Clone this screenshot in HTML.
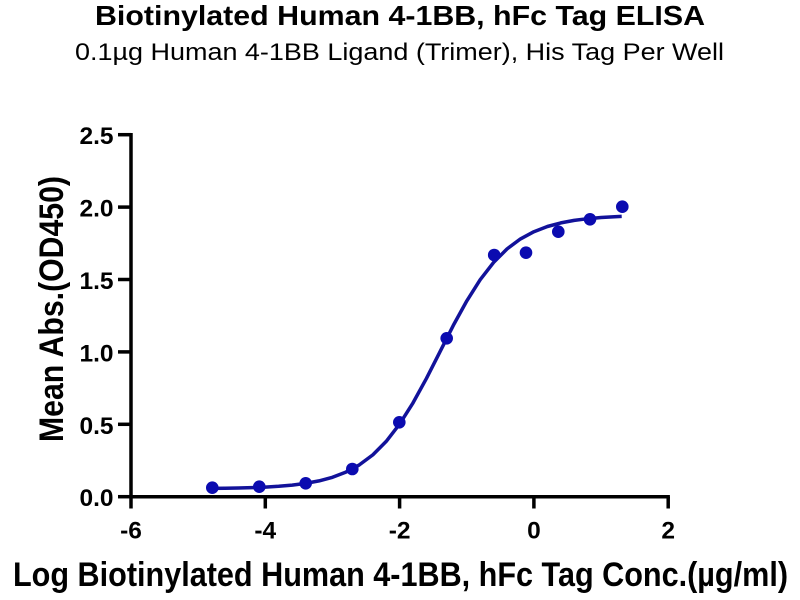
<!DOCTYPE html>
<html>
<head>
<meta charset="utf-8">
<style>
html,body{margin:0;padding:0;background:#fff;}
svg{display:block;}
text{font-family:"Liberation Sans",Arial,sans-serif;fill:#000;}
</style>
</head>
<body>
<svg width="800" height="600" viewBox="0 0 800 600" xmlns="http://www.w3.org/2000/svg">
<rect width="800" height="600" fill="#fff"/>
<!-- Titles -->
<text x="95" y="25" font-size="28" font-weight="bold" textLength="610" lengthAdjust="spacingAndGlyphs">Biotinylated Human 4-1BB, hFc Tag ELISA</text>
<text x="75" y="60" font-size="24" textLength="649" lengthAdjust="spacingAndGlyphs">0.1µg Human 4-1BB Ligand (Trimer), His Tag Per Well</text>

<!-- Axes -->
<g stroke="#000" stroke-width="3.5" fill="none" stroke-linecap="butt">
  <line x1="131" y1="133" x2="131" y2="498.4"/>
  <line x1="129.3" y1="496.7" x2="669.9" y2="496.7"/>
  <!-- y ticks -->
  <line x1="118" y1="496.7" x2="131" y2="496.7"/>
  <line x1="118" y1="424.3" x2="131" y2="424.3"/>
  <line x1="118" y1="351.9" x2="131" y2="351.9"/>
  <line x1="118" y1="279.5" x2="131" y2="279.5"/>
  <line x1="118" y1="207.1" x2="131" y2="207.1"/>
  <line x1="118" y1="134.7" x2="131" y2="134.7"/>
  <!-- x ticks -->
  <line x1="131" y1="496.7" x2="131" y2="508.5"/>
  <line x1="265.3" y1="496.7" x2="265.3" y2="508.5"/>
  <line x1="399.6" y1="496.7" x2="399.6" y2="508.5"/>
  <line x1="533.9" y1="496.7" x2="533.9" y2="508.5"/>
  <line x1="668.2" y1="496.7" x2="668.2" y2="508.5"/>
</g>

<!-- y tick labels -->
<g font-size="24.5" font-weight="bold" text-anchor="end">
  <text x="113.5" y="506.2">0.0</text>
  <text x="113.5" y="433.8">0.5</text>
  <text x="113.5" y="361.4">1.0</text>
  <text x="113.5" y="289.0">1.5</text>
  <text x="113.5" y="216.6">2.0</text>
  <text x="113.5" y="144.2">2.5</text>
</g>
<!-- x tick labels -->
<g font-size="24.5" font-weight="bold" text-anchor="middle">
  <text x="131" y="538.5">-6</text>
  <text x="265.3" y="538.5">-4</text>
  <text x="399.6" y="538.5">-2</text>
  <text x="533.9" y="538.5">0</text>
  <text x="668.2" y="538.5">2</text>
</g>

<!-- Axis titles -->
<text x="13" y="586" font-size="34" font-weight="bold" textLength="775" lengthAdjust="spacingAndGlyphs">Log Biotinylated Human 4-1BB, hFc Tag Conc.(µg/ml)</text>
<text transform="translate(63,442) rotate(-90)" x="0" y="0" font-size="34" font-weight="bold" textLength="266" lengthAdjust="spacingAndGlyphs">Mean Abs.(OD450)</text>

<!-- Fit curve -->
<polyline fill="none" stroke="#12129a" stroke-width="3.5" stroke-linejoin="round" stroke-linecap="butt"
points="211.6,488.4 225.0,488.2 238.4,488.0 251.9,487.6 265.3,487.1 278.7,486.3 292.2,485.1 305.6,483.4 319.0,480.9 332.5,477.3 345.9,472.1 359.3,464.9 372.8,454.9 386.2,441.4 399.6,424.1 413.0,402.9 426.5,378.3 439.9,351.9 453.3,325.4 466.8,300.9 480.2,279.7 493.6,262.4 507.1,248.9 520.5,238.9 533.9,231.7 547.4,226.5 560.8,222.9 574.2,220.4 587.6,218.7 601.1,217.5 614.5,216.7 621.7,216.4"/>

<!-- Data points -->
<g fill="#0b0bb0">
  <circle cx="212.3" cy="487.7" r="6.3"/>
  <circle cx="259.3" cy="486.7" r="6.3"/>
  <circle cx="305.7" cy="483.3" r="6.3"/>
  <circle cx="352.3" cy="469.0" r="6.3"/>
  <circle cx="399.3" cy="422.3" r="6.3"/>
  <circle cx="446.7" cy="338.3" r="6.3"/>
  <circle cx="494.2" cy="255.0" r="6.3"/>
  <circle cx="526.0" cy="252.7" r="6.3"/>
  <circle cx="558.3" cy="231.7" r="6.3"/>
  <circle cx="590.0" cy="219.3" r="6.3"/>
  <circle cx="622.3" cy="206.7" r="6.3"/>
</g>
</svg>
</body>
</html>
